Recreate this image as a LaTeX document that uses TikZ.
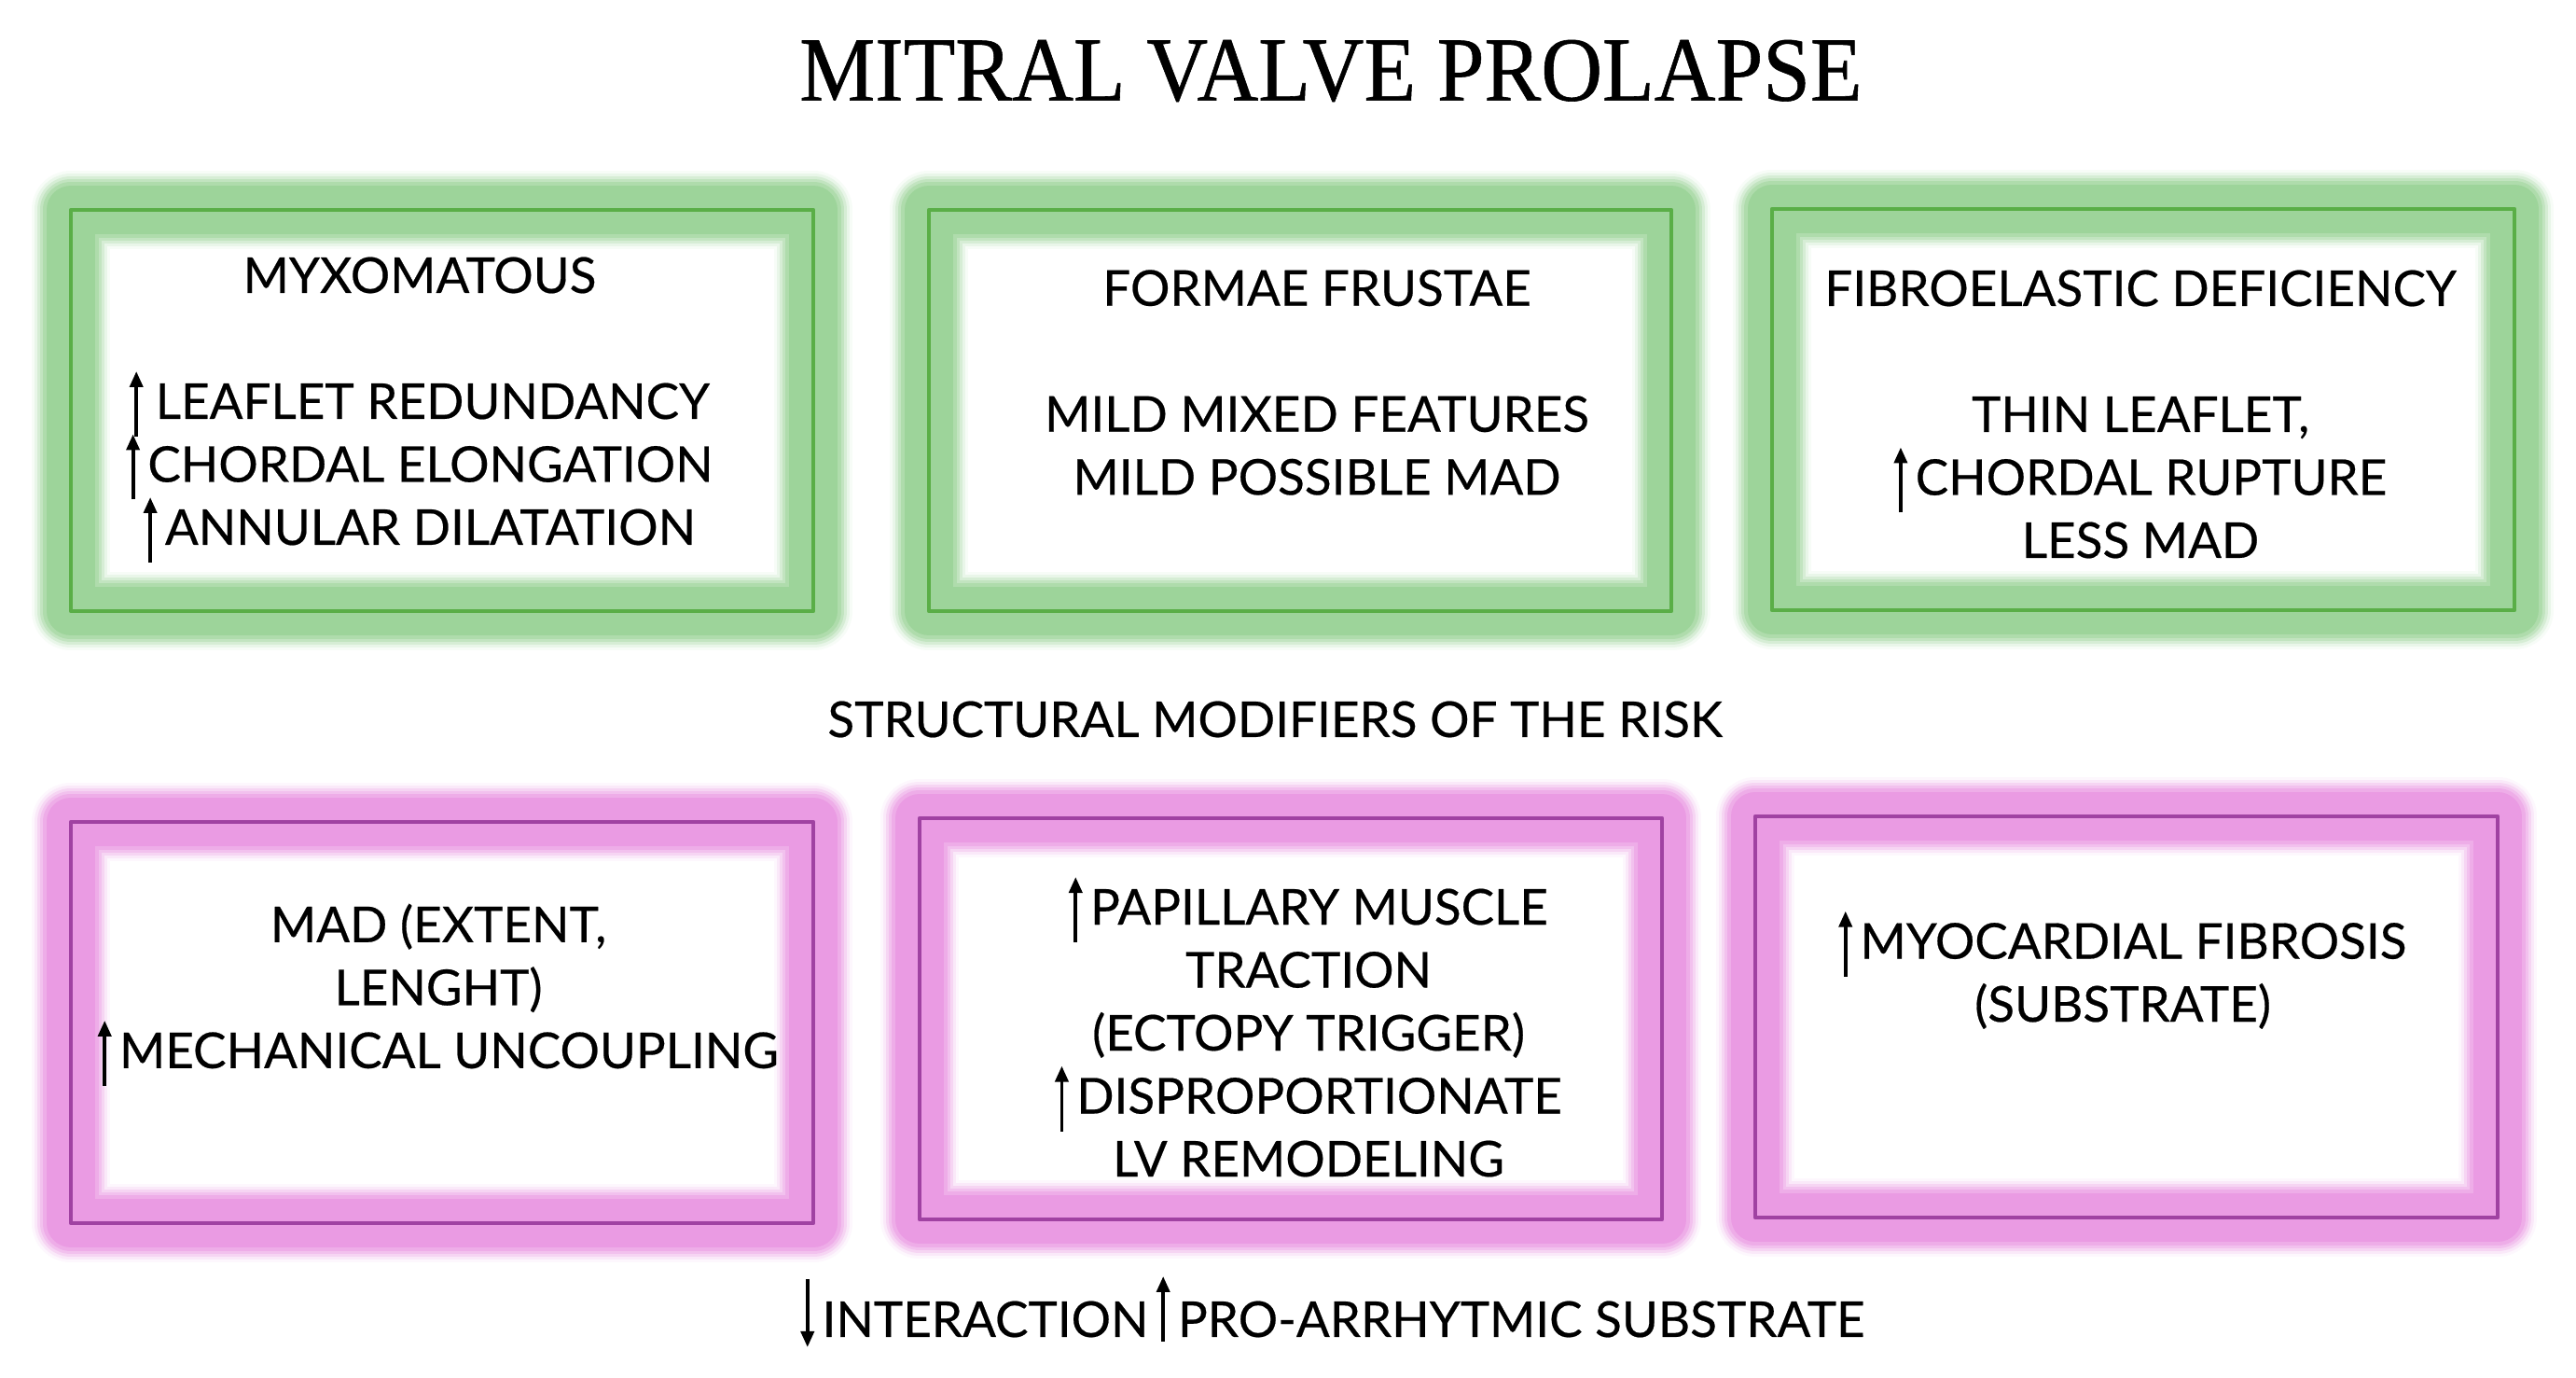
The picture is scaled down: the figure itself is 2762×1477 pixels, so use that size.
\documentclass[tikz,border=0pt]{standalone}
\usepackage{fontspec}
\setmainfont[FakeBold=0.4]{Lato}
\newfontfamily\titlefont[FakeBold=0.6]{Liberation Serif}
\usetikzlibrary{arrows.meta}
\definecolor{gline}{HTML}{5AAE47}
\definecolor{gglow}{HTML}{9DD49A}
\definecolor{pline}{HTML}{A042A2}
\definecolor{pglow}{HTML}{EA9BE3}
\tikzset{arr/.style={line width=1.9pt,-{Triangle[length=8.5pt,width=7pt]}}}
\newcommand\uparr{\smash{\tikz[baseline=0pt,x=1pt,y=1pt]\draw[arr] (0,-9.5) -- (0,25.5);}}
\newcommand\uparrB{\smash{\tikz[baseline=0pt,x=1pt,y=1pt]\draw[arr] (0,-2.5) -- (0,32.5);}}
\newcommand\dnarr{\smash{\tikz[baseline=0pt,x=1pt,y=1pt]\draw[arr] (0,31) -- (0,-5.5);}}
\tikzset{
  glowbox/.style n args={2}{draw=#2, line width=2.2pt, line join=round,
    minimum width=398pt, minimum height=215pt, inner sep=0pt, outer sep=0pt,
    preaction={draw=#1!8, line width=42pt, line join=round},
    preaction={draw=#1!22, line width=39pt, line join=round},
    preaction={draw=#1!42, line width=36pt, line join=round},
    preaction={draw=#1!62, line width=33pt, line join=round},
    preaction={draw=#1!82, line width=30pt, line join=round},
    preaction={draw=#1, line width=26pt, line join=round}},
  gbox/.style={glowbox={gglow}{gline}},
  pbox/.style={glowbox={pglow}{pline}},
  txt/.style={font=\fontsize{26.5}{33.75}\selectfont, align=center, inner sep=0pt},
}
\begin{document}
\begin{tikzpicture}[x=0.5pt,y=-0.5pt]
\useasboundingbox (0,0) rectangle (2762,1477);
\fill[white] (0,0) rectangle (2762,1477);
\node[font=\titlefont\fontsize{49}{55}\selectfont, inner sep=0pt, xscale=0.93] (title) at (1427,76) {MITRAL VALVE PROLAPSE};
\node[gbox] (g1) at (474,440) {};
\node[gbox] (g2) at (1394,440) {};
\node[gbox] (g3) at (2298,439) {};
\node[pbox] (p1) at (474,1096) {};
\node[pbox] (p2) at (1384,1092) {};
\node[pbox] (p3) at (2280,1090) {};
\node[txt] (tg1) at (450,430) {MYXOMATOUS\\\mbox{}\\\uparr\ LEAFLET REDUNDANCY\\\uparr\,CHORDAL ELONGATION\\\uparr\,ANNULAR DILATATION};
\node[txt] (tg2) at (1412,410) {FORMAE FRUSTAE\\\mbox{}\\MILD MIXED FEATURES\\MILD POSSIBLE MAD};
\node[txt] (tg3) at (2295,444) {FIBROELASTIC DEFICIENCY\\\mbox{}\\THIN LEAFLET,\\\uparr\,CHORDAL RUPTURE\\LESS MAD};
\node[txt] (mid) at (1367,771) {STRUCTURAL MODIFIERS OF THE RISK};
\node[txt] (tp1) at (470,1057) {MAD (EXTENT,\\LENGHT)\\\uparr\,MECHANICAL UNCOUPLING};
\node[txt] (tp2) at (1403,1107) {\uparr\,PAPILLARY MUSCLE\\TRACTION\\(ECTOPY TRIGGER)\\\uparr\,DISPROPORTIONATE\\LV REMODELING};
\node[txt] (tp3) at (2276,1046) {\uparr\,MYOCARDIAL FIBROSIS\\(SUBSTRATE)};
\node[txt] (bot) at (1429,1414) {\dnarr\,INTERACTION\,\uparrB\,PRO-ARRHYTMIC SUBSTRATE};
\end{tikzpicture}
\end{document}
